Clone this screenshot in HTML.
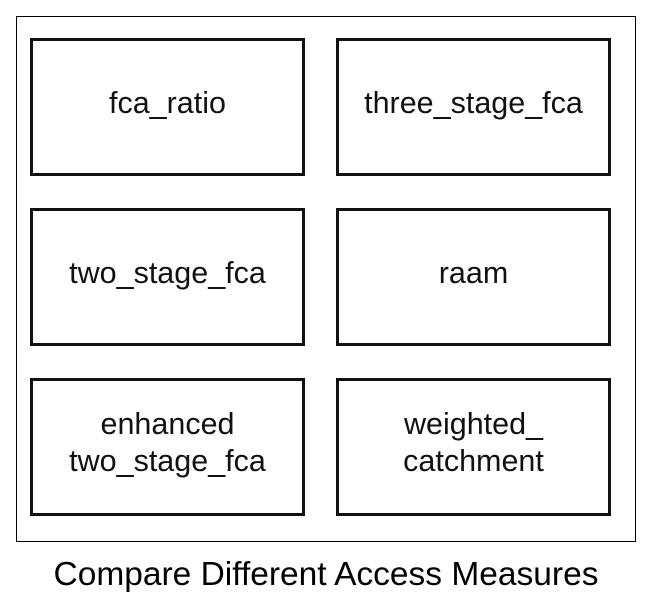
<!DOCTYPE html>
<html><head><style>
body{margin:0;width:652px;height:600px;background:#fff;font-family:"Liberation Sans",sans-serif;position:relative;overflow:hidden}
.frame{position:absolute;left:16px;top:16px;width:620px;height:526px;border:1px solid #000;box-sizing:border-box}
.b{position:absolute;width:275px;height:138px;border:3px solid #111;box-sizing:border-box;display:flex;align-items:center;justify-content:center;text-align:center;font-size:30.5px;line-height:37px;color:#111;padding-bottom:8px}
.cap{position:absolute;left:0;width:652px;top:556px;text-align:center;font-size:33.5px;color:#000}
</style></head><body>
<div class="frame"></div>
<div class="b" style="left:30px;top:38px">fca_ratio</div>
<div class="b" style="left:336px;top:38px">three_stage_fca</div>
<div class="b" style="left:30px;top:208px">two_stage_fca</div>
<div class="b" style="left:336px;top:208px">raam</div>
<div class="b" style="left:30px;top:378px">enhanced<br>two_stage_fca</div>
<div class="b" style="left:336px;top:378px">weighted_<br>catchment</div>
<div class="cap">Compare Different Access Measures</div>
</body></html>
